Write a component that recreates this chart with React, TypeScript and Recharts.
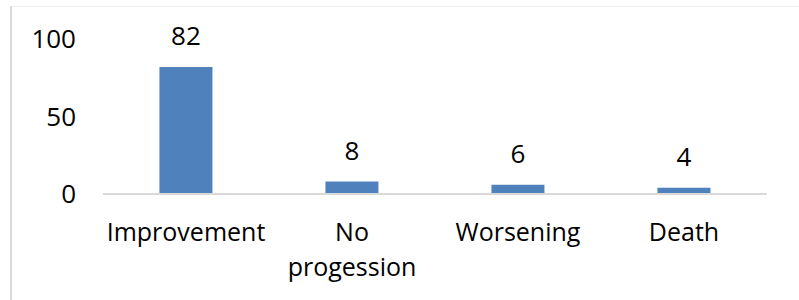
import React from "react";
import { BarChart, Bar, XAxis, YAxis, LabelList } from "recharts";

const categories = ["Improvement", "No progession", "Worsening", "Death"];
const values = [82, 8, 6, 4];
const yTicks = [0, 50, 100];

const data = categories.map((c, i) => ({ name: c, value: values[i] }));

const FONT = "'Open Sans', sans-serif";

const XTick = (props: any) => {
  const { x, y, payload } = props;
  const label: string = payload.value;
  const lines = label === "No progession" ? ["No", "progession"] : [label];
  return (
    <text x={x} y={y} textAnchor="middle" fill="#000" fontFamily={FONT} fontSize={25}>
      {lines.map((l, i) => (
        <tspan key={i} x={x} dy={i === 0 ? 39 : 35}>
          {l}
        </tspan>
      ))}
    </text>
  );
};

export default function App() {
  return (
    <div style={{ position: "absolute", left: 0, top: 0, width: 799, height: 300, background: "#fff" }}>
      <div
        style={{
          position: "absolute",
          left: 10,
          top: 6,
          width: 789,
          height: 294,
          borderLeft: "2px solid #d9d9d9",
          borderTop: "1px solid #f0f0f0",
          boxSizing: "border-box",
        }}
      />
      <div style={{ position: "absolute", left: 0, top: 0 }}>
        <BarChart
          width={799}
          height={300}
          data={data}
          margin={{ top: 39, right: 32, left: 0, bottom: 46 }}
          barCategoryGap="34%"
        >
          <XAxis
            dataKey="name"
            axisLine={{ stroke: "#d9d9d9", strokeWidth: 2 }}
            tickLine={false}
            height={60}
            interval={0}
            tick={<XTick />}
          />
          <YAxis
            width={103}
            domain={[0, 100]}
            ticks={yTicks}
            axisLine={false}
            tickLine={false}
            tickMargin={21}
            tick={{ fill: "#000", fontFamily: FONT, fontSize: 26 }}
          />
          <Bar dataKey="value" fill="#4f81bd" isAnimationActive={false}>
            <LabelList
              dataKey="value"
              position="top"
              offset={22}
              fill="#000"
              fontFamily={FONT}
              fontSize={26}
            />
          </Bar>
        </BarChart>
      </div>
    </div>
  );
}
